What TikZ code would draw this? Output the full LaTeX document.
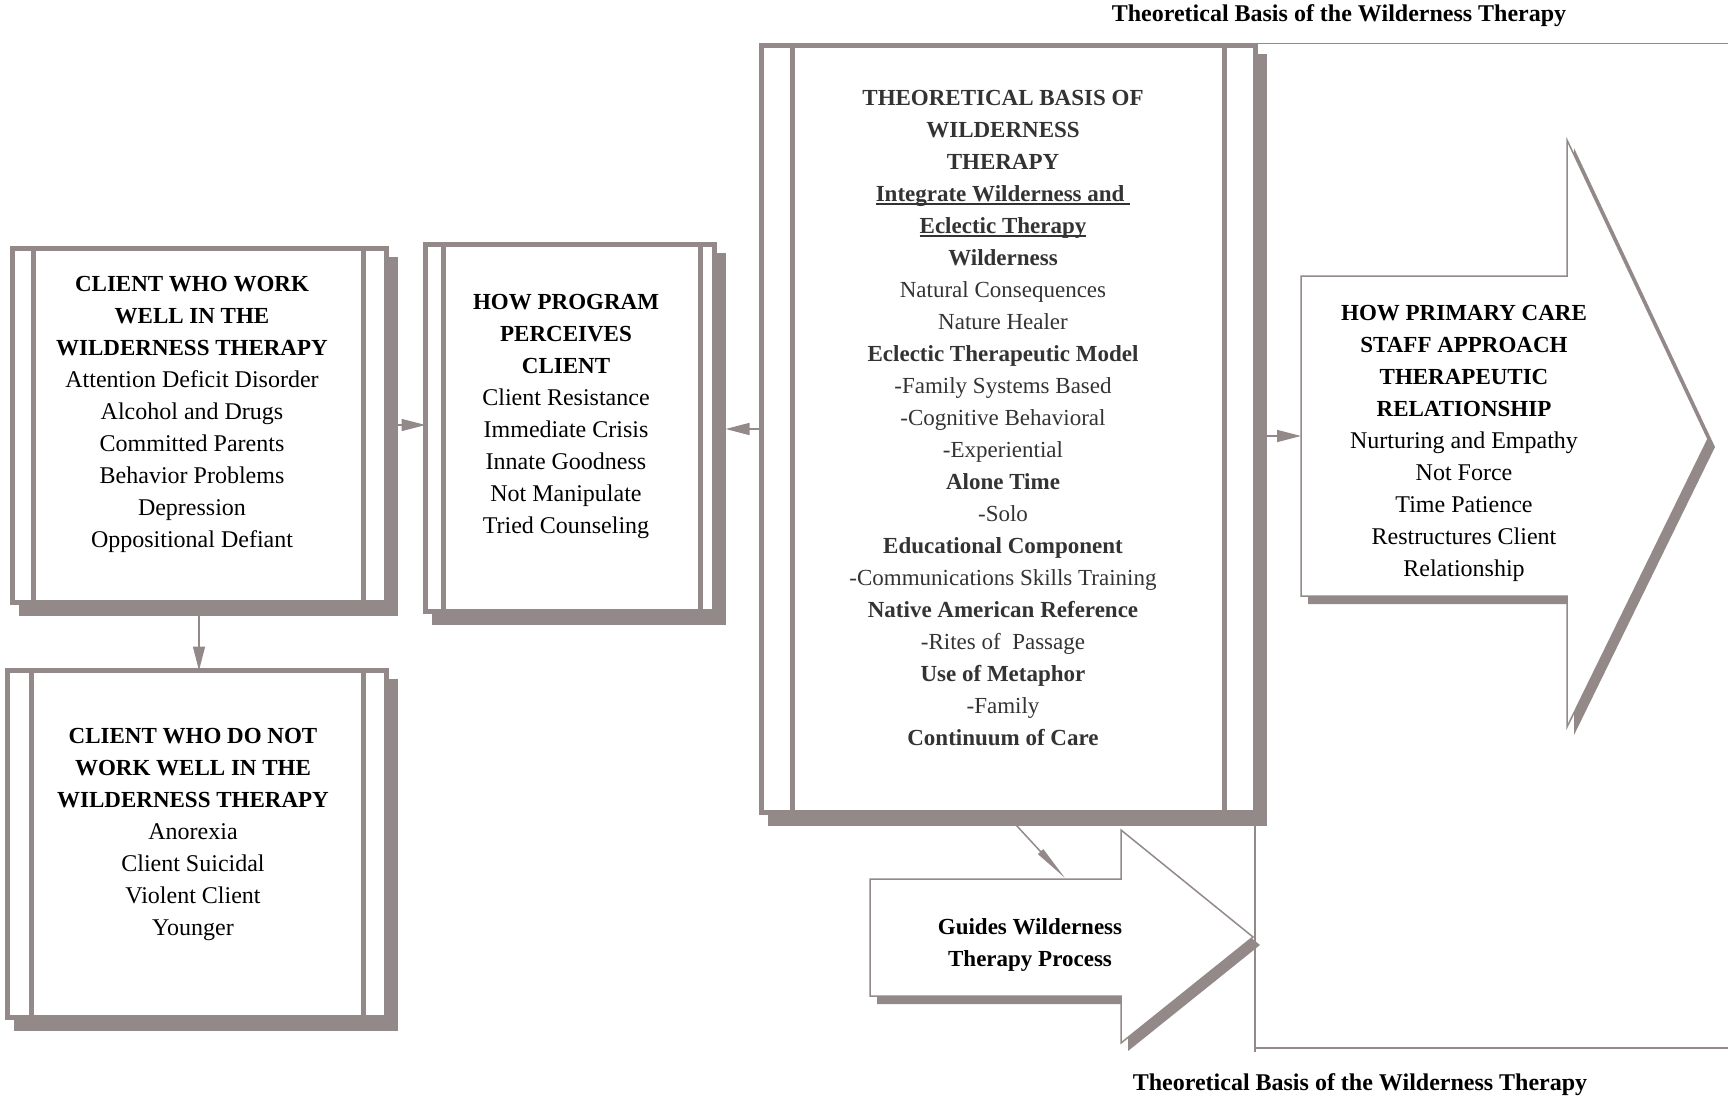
\documentclass[tikz,border=0pt]{standalone}
\usepackage{fontspec}
\setmainfont{Liberation Serif}
\usetikzlibrary{arrows.meta}

\definecolor{framegray}{RGB}{147,137,137}
\definecolor{theorygray}{RGB}{51,51,51}

\newcommand{\hd}[1]{{\bfseries\fontsize{11.5}{16}\selectfont #1}}
\newcommand{\lowline}[1]{\setbox0\hbox{#1}\rlap{\rule[-1.3pt]{\wd0}{0.6pt}}\box0}

\tikzset{
	dropped/.style={preaction={fill=framegray, draw=framegray, transform canvas={shift={(4.5pt,-5.5pt)}}}},
	barbox/.style={dropped, fill=white, draw=framegray, line width=2.5pt, inner sep=0pt, outer sep=0pt},
	barline/.style={draw=framegray, line width=2.5pt},
	bigarrow/.style={preaction={fill=framegray, transform canvas={shift={(3.5pt,-4pt)}}}, fill=white, draw=framegray, line width=0.75pt},
	rim/.style={draw=framegray, line width=0.75pt},
	boxtext/.style={align=center, inner sep=0pt, font=\fontsize{12}{16}\selectfont},
	theorytext/.style={align=center, inner sep=0pt, text=theorygray, font=\fontsize{11.5}{16}\selectfont},
	heading/.style={inner sep=0pt, font=\bfseries\fontsize{12}{14}\selectfont},
	link/.style={draw=framegray, line width=0.75pt, -{Triangle[length=12pt, width=6pt]}},
	slimlink/.style={draw=framegray, line width=0.75pt, -{Triangle[length=18pt, width=3.5pt]}},
}

\begin{document}
\begin{tikzpicture}[x=0.5pt, y=-0.5pt]
	\useasboundingbox (0,0) rectangle (1728,1097);

	\node[heading] (toptitle) at (1339,16) {Theoretical Basis of the Wilderness Therapy};
	\node[heading] (bottomtitle) at (1360,1085) {Theoretical Basis of the Wilderness Therapy};

	\draw[rim]	(1257,43.5) -- (1728,43.5);
	\draw[rim]	(1255,813) -- (1255,1052);
	\draw[rim]	(1255,1048) -- (1728,1048);

	% boxes
	\node[barbox, minimum width=187pt, minimum height=177pt] (box1) at (199,425) {};
	\draw[barline]	(33,248) -- (33,602);
	\draw[barline]	(363,248) -- (363,602);

	\node[barbox, minimum width=144.5pt, minimum height=183.5pt] (box2) at (570,428) {};
	\draw[barline]	(443,244.5) -- (443,611.5);
	\draw[barline]	(700,244.5) -- (700,611.5);

	\node[barbox, minimum width=189.5pt, minimum height=173.5pt] (box3) at (197,844) {};
	\draw[barline]	(31,670.5) -- (31,1017.5);
	\draw[barline]	(363,670.5) -- (363,1017.5);

	\node[barbox, minimum width=247pt, minimum height=383.5pt] (theory) at (1008.5,429) {};
	\draw[barline]	(792,45.5) -- (792,812.5);
	\draw[barline]	(1224,45.5) -- (1224,812.5);

	% big arrows
	\draw[bigarrow]	(1301,276) -- (1567,276) -- (1567,140) -- (1708,439) -- (1567,727) -- (1567,596) -- (1301,596) -- cycle;
	\draw[bigarrow]	(870,879) -- (1121,879) -- (1121,830) -- (1253,937) -- (1121,1043) -- (1121,996) -- (870,996) -- cycle;
	\coordinate (care) at (1301,436);
	\coordinate (gtip) at (1065,878);

	\node[boxtext] (worklist) at (192,414) {\hd{CLIENT WHO WORK}\\ \hd{WELL IN THE}\\ \hd{WILDERNESS THERAPY}\\
		Attention Deficit Disorder\\ Alcohol and Drugs\\ Committed Parents\\ Behavior Problems\\ Depression\\ Oppositional Defiant};
	\node[boxtext] (perceives) at (566,416) {\hd{HOW PROGRAM}\\ \hd{PERCEIVES}\\ \hd{CLIENT}\\
		Client Resistance\\ Immediate Crisis\\ Innate Goodness\\ Not Manipulate\\ Tried Counseling};
	\node[boxtext] (notlist) at (193,834) {\hd{CLIENT WHO DO NOT}\\ \hd{WORK WELL IN THE}\\ \hd{WILDERNESS THERAPY}\\
		Anorexia\\ Client Suicidal\\ Violent Client\\ Younger};
	\node[theorytext] (basis) at (1003,418.5) {\textbf{THEORETICAL BASIS OF}\\ \textbf{WILDERNESS}\\ \textbf{THERAPY}\\
		\textbf{\lowline{Integrate Wilderness and\ }}\\ \textbf{\lowline{Eclectic Therapy}}\\ \textbf{Wilderness}\\
		Natural Consequences\\ Nature Healer\\ \textbf{Eclectic Therapeutic Model}\\ -Family Systems Based\\
		-Cognitive Behavioral\\ -Experiential\\ \textbf{Alone Time}\\ -Solo\\ \textbf{Educational Component}\\
		-Communications Skills Training\\ \textbf{Native American Reference}\\ -Rites of\ \ Passage\\
		\textbf{Use of Metaphor}\\ -Family\\ \textbf{Continuum of Care}};
	\node[boxtext] (staff) at (1464,443) {\hd{HOW PRIMARY CARE}\\ \hd{STAFF APPROACH}\\ \hd{THERAPEUTIC}\\ \hd{RELATIONSHIP}\\
		Nurturing and Empathy\\ Not Force\\ Time Patience\\ Restructures Client\\ Relationship};
	\node[boxtext] (guides) at (1030,945) {\hd{Guides Wilderness}\\ \hd{Therapy Process}};

	% connectors
	\draw[link]	(box1.east) -- (box1.east -| box2.west);
	\draw[link]	(theory.west) -- ([xshift=5.5pt]theory.west -| box2.east);
	\draw[link]	(theory.east |- care) -- (care);
	\draw[link]	(box1.south) -- (box1.south |- box3.north);
	\draw[slimlink]	([xshift=-2pt]theory.south) -- (gtip);
\end{tikzpicture}
\end{document}
